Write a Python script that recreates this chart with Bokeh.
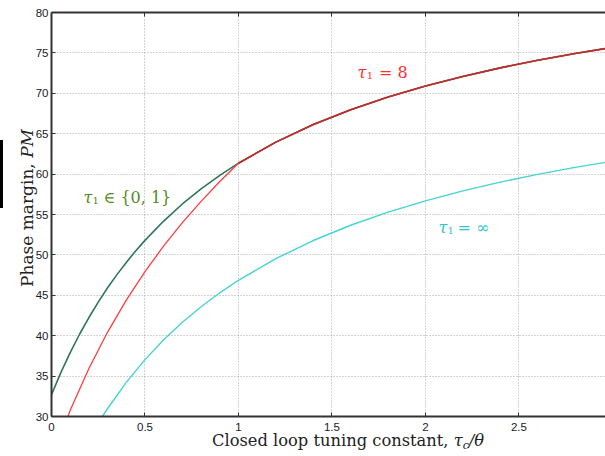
from bokeh.plotting import figure
from bokeh.models import Range1d, LinearAxis, Label, FixedTicker, Div
from bokeh.layouts import row, column
from bokeh.embed import file_html
from bokeh.resources import INLINE

# tau_1 in {0,1}
x_green = [0.0, 0.05, 0.1, 0.15, 0.2, 0.25, 0.3, 0.35, 0.4, 0.45, 0.5, 0.6, 0.7, 0.8, 0.9, 1.0,
           1.2, 1.4, 1.6, 1.8, 2.0, 2.2, 2.4, 2.6, 2.8, 3.0]
pm_green = [32.70, 35.43, 37.91, 40.18, 42.25, 44.16, 45.93, 47.56, 49.07, 50.49, 51.80, 54.19,
            56.30, 58.17, 59.84, 61.35, 63.96, 66.13, 67.96, 69.54, 70.90, 72.09, 73.15, 74.08,
            74.92, 75.68]

# tau_1 = 8
x_red = [0.088, 0.1, 0.2, 0.3, 0.4, 0.5, 0.6, 0.7, 0.8, 0.9, 1.0,
         1.2, 1.4, 1.6, 1.8, 2.0, 2.2, 2.4, 2.6, 2.8, 3.0]
pm_red = [30.0, 30.76, 35.95, 40.45, 44.41, 47.93, 51.11, 54.00, 56.63, 59.08, 61.35,
          63.96, 66.13, 67.96, 69.54, 70.90, 72.09, 73.15, 74.08, 74.92, 75.68]

# tau_1 = infinity
x_cyan = [0.272, 0.3, 0.4, 0.5, 0.6, 0.7, 0.8, 0.9, 1.0, 1.2, 1.4, 1.6, 1.8, 2.0, 2.2, 2.4,
          2.6, 2.8, 3.0]
pm_cyan = [30.0, 30.99, 34.23, 37.04, 39.49, 41.66, 43.59, 45.31, 46.86, 49.54, 51.78, 53.67,
           55.29, 56.69, 57.92, 59.00, 59.97, 60.83, 61.60]

x_ticks = [0, 0.5, 1, 1.5, 2, 2.5, 3]
y_ticks = [30, 35, 40, 45, 50, 55, 60, 65, 70, 75, 80]

p = figure(width=575, height=437, x_range=Range1d(0, 2.963), y_range=Range1d(30, 80),
           output_backend="svg", toolbar_location=None, margin=0,
           min_border_left=21, min_border_right=0, min_border_top=12, min_border_bottom=21)
p.outline_line_color = None
p.background_fill_color = "white"
p.border_fill_color = None

for ax in (p.xaxis[0], p.yaxis[0]):
    ax.axis_line_color = "#333333"
    ax.axis_line_width = 2
    ax.major_tick_in = 4
    ax.major_tick_out = 0
    ax.major_tick_line_color = "#333333"
    ax.minor_tick_line_color = None
    ax.major_label_text_font = "Liberation Sans"
    ax.major_label_text_font_size = "11.5px"
    ax.major_label_text_color = "#1a1a1a"
    ax.axis_label = None

p.xaxis[0].ticker = FixedTicker(ticks=x_ticks)
p.yaxis[0].ticker = FixedTicker(ticks=y_ticks)
p.xaxis[0].major_label_overrides = {0: "0", 0.5: "0.5", 1: "1", 1.5: "1.5", 2: "2", 2.5: "2.5", 3: "3"}
p.xaxis[0].major_label_standoff = 6
p.yaxis[0].major_label_standoff = 3

top = LinearAxis(ticker=FixedTicker(ticks=x_ticks), axis_line_color="#333333", axis_line_width=2,
                 major_tick_in=4, major_tick_out=0, major_tick_line_color="#333333",
                 minor_tick_line_color=None, major_label_text_font_size="1px",
                 major_label_text_color=None, major_label_standoff=0)
p.add_layout(top, "above")

p.xgrid.ticker = FixedTicker(ticks=x_ticks)
p.ygrid.ticker = FixedTicker(ticks=y_ticks)
for g in (p.xgrid[0], p.ygrid[0]):
    g.grid_line_color = "#a8a8a8"
    g.grid_line_dash = "1 2"
    g.grid_line_width = 1

p.line(x_cyan, pm_cyan, line_color="#45d3d3", line_width=1.4)
p.line(x_green, pm_green, line_color="#2d765e", line_width=1.6)
p.line(x_red, pm_red, line_color="#ff3c3c", line_width=1.3)
# overlapped part looks darker
p.line(x_red[10:], pm_red[10:], line_color="#b8302c", line_width=1.6)

serif = "DejaVu Serif"


def curve_label(x0, y0, x1, y1, x2, rest, color):
    p.add_layout(Label(x=x0, y=y0, text="τ", text_color=color, text_font=serif,
                       text_font_style="italic", text_font_size="16px",
                       text_baseline="alphabetic", text_align="left"))
    p.add_layout(Label(x=x1, y=y1, text="1", text_color=color, text_font=serif,
                       text_font_size="10px", text_baseline="alphabetic", text_align="left"))
    p.add_layout(Label(x=x2, y=y0, text=rest, text_color=color, text_font=serif,
                       text_font_size="16px", text_baseline="alphabetic", text_align="left"))


curve_label(1.636, 72.55, 1.686, 72.18, 1.752, "= 8", "#ff2f2f")
curve_label(2.070, 53.45, 2.118, 53.08, 2.172, "= ∞", "#2ec6d0")
curve_label(0.171, 57.05, 0.219, 56.68, 0.278, "∈ {0, 1}", "#548a22")

ylabel_html = (
    '<div style="position:relative;width:30px;height:456px;">'
    '<div style="position:absolute;left:0px;top:140px;width:3px;height:68px;background:#000;"></div>'
    '<span style="position:absolute;left:18.6px;top:287px;transform-origin:0 0;'
    'transform:rotate(-90deg);white-space:nowrap;font-family:\'DejaVu Serif\';'
    'font-size:17px;line-height:17px;color:#222;">Phase margin, <i>PM</i></span>'
    '</div>'
)
xlabel_html = (
    '<div style="position:relative;width:575px;height:19px;">'
    '<span style="position:absolute;left:182px;top:-3.8px;white-space:nowrap;'
    'font-family:\'DejaVu Serif\';font-size:16.3px;line-height:16.3px;color:#222;">'
    'Closed loop tuning constant, <i>τ</i>'
    '<i style="font-size:11px;vertical-align:-3px;">c</i>'
    '<i>/θ</i></span></div>'
)
ydiv = Div(text=ylabel_html, width=30, height=456, margin=0, styles={"overflow": "visible"})
xdiv = Div(text=xlabel_html, width=575, height=19, margin=0, styles={"overflow": "visible"})

layout = row(ydiv, column(p, xdiv, spacing=0, margin=0), spacing=0, margin=0)

open("out.html", "w").write(file_html(layout, INLINE))
